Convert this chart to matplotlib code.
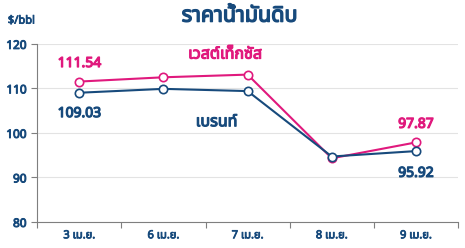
import numpy as np
import matplotlib.pyplot as plt
import matplotlib.patheffects as pe

# data
dates = ['3 เม.ย.', '6 เม.ย.', '7 เม.ย.', '8 เม.ย.', '9 เม.ย.']
wti = [111.54, 112.5, 113.1, 94.3, 97.87]
brent = [109.03, 109.9, 109.4, 94.7, 95.92]

blue = '#174a7c'
pink = '#e0197d'

plt.rcParams['font.family'] = ['Noto Sans Thai', 'Noto Sans', 'DejaVu Sans']
num_font = ['Noto Sans', 'DejaVu Sans']


def fake_bold(color, w=0.7):
    # the installed faces have no bold weight, so thicken glyphs with a stroke
    return [pe.withStroke(linewidth=w, foreground=color)]


fig = plt.figure(figsize=(4.65, 2.48), dpi=100)
ax = fig.add_axes([0.08, 0.105, 0.905, 0.718])

x = np.arange(len(dates))
ax.plot(x, wti, color=pink, lw=1.5, marker='o', ms=6, mfc='white', mec=pink, mew=1.2, zorder=3)
ax.plot(x, brent, color=blue, lw=1.5, marker='o', ms=6, mfc='white', mec=blue, mew=1.2, zorder=4)

# value labels on first and last points
lab = dict(textcoords='offset points', ha='center', va='center', fontsize=10, family=num_font)
ax.annotate(f'{wti[0]:.2f}', (x[0], wti[0]), xytext=(0, 13), color=pink,
            path_effects=fake_bold(pink, 0.9), **lab)
ax.annotate(f'{brent[0]:.2f}', (x[0], brent[0]), xytext=(0, -15), color=blue,
            path_effects=fake_bold(blue, 0.9), **lab)
ax.annotate(f'{wti[-1]:.2f}', (x[-1], wti[-1]), xytext=(0, 13), color=pink,
            path_effects=fake_bold(pink, 0.9), **lab)
ax.annotate(f'{brent[-1]:.2f}', (x[-1], brent[-1]), xytext=(0, -16), color=blue,
            path_effects=fake_bold(blue, 0.9), **lab)

# series names
ax.text(1.73, 117.6, 'เวสต์เท็กซัส', color=pink, fontsize=11.5, ha='center', va='center',
        path_effects=fake_bold(pink, 0.8))
ax.text(1.63, 102.4, 'เบรนท์', color=blue, fontsize=11.5, ha='center', va='center',
        path_effects=fake_bold(blue, 0.8))

ax.set_xlim(-0.5, len(dates) - 0.5)
ax.set_ylim(80, 120)
ax.set_yticks([80, 90, 100, 110, 120])
ax.grid(axis='y', color='#e3e3e3', lw=0.8)
ax.set_axisbelow(True)

# category labels centered, tick marks on boundaries
ax.set_xticks(np.arange(-0.5, len(dates)), minor=False)
ax.set_xticklabels([])
ax.set_xticks(x, minor=True)
ax.set_xticklabels(dates, minor=True)
ax.tick_params(axis='x', which='major', length=4, color='#7f7f7f')
ax.tick_params(axis='x', which='minor', length=0, pad=6, labelsize=8, labelcolor=blue)
ax.tick_params(axis='y', length=4, color='#7f7f7f', labelsize=8.5, labelcolor=blue)
for t in ax.get_xticklabels(minor=True):
    t.set_path_effects(fake_bold(blue, 0.6))
for t in ax.get_yticklabels():
    t.set_family(num_font)
    t.set_path_effects(fake_bold(blue, 0.7))

for s in ['top', 'right']:
    ax.spines[s].set_visible(False)
for s in ['left', 'bottom']:
    ax.spines[s].set_color('#7f7f7f')

fig.text(0.515, 0.935, 'ราคาน้ำมันดิบ', ha='center', va='center', color=blue, fontsize=15.5,
         path_effects=fake_bold(blue, 1.0))
fig.text(0.017, 0.915, '$/bbl', ha='left', va='center', color=blue, fontsize=8,
         family=num_font, path_effects=fake_bold(blue, 0.6))

fig.savefig('out.png', dpi=100)
